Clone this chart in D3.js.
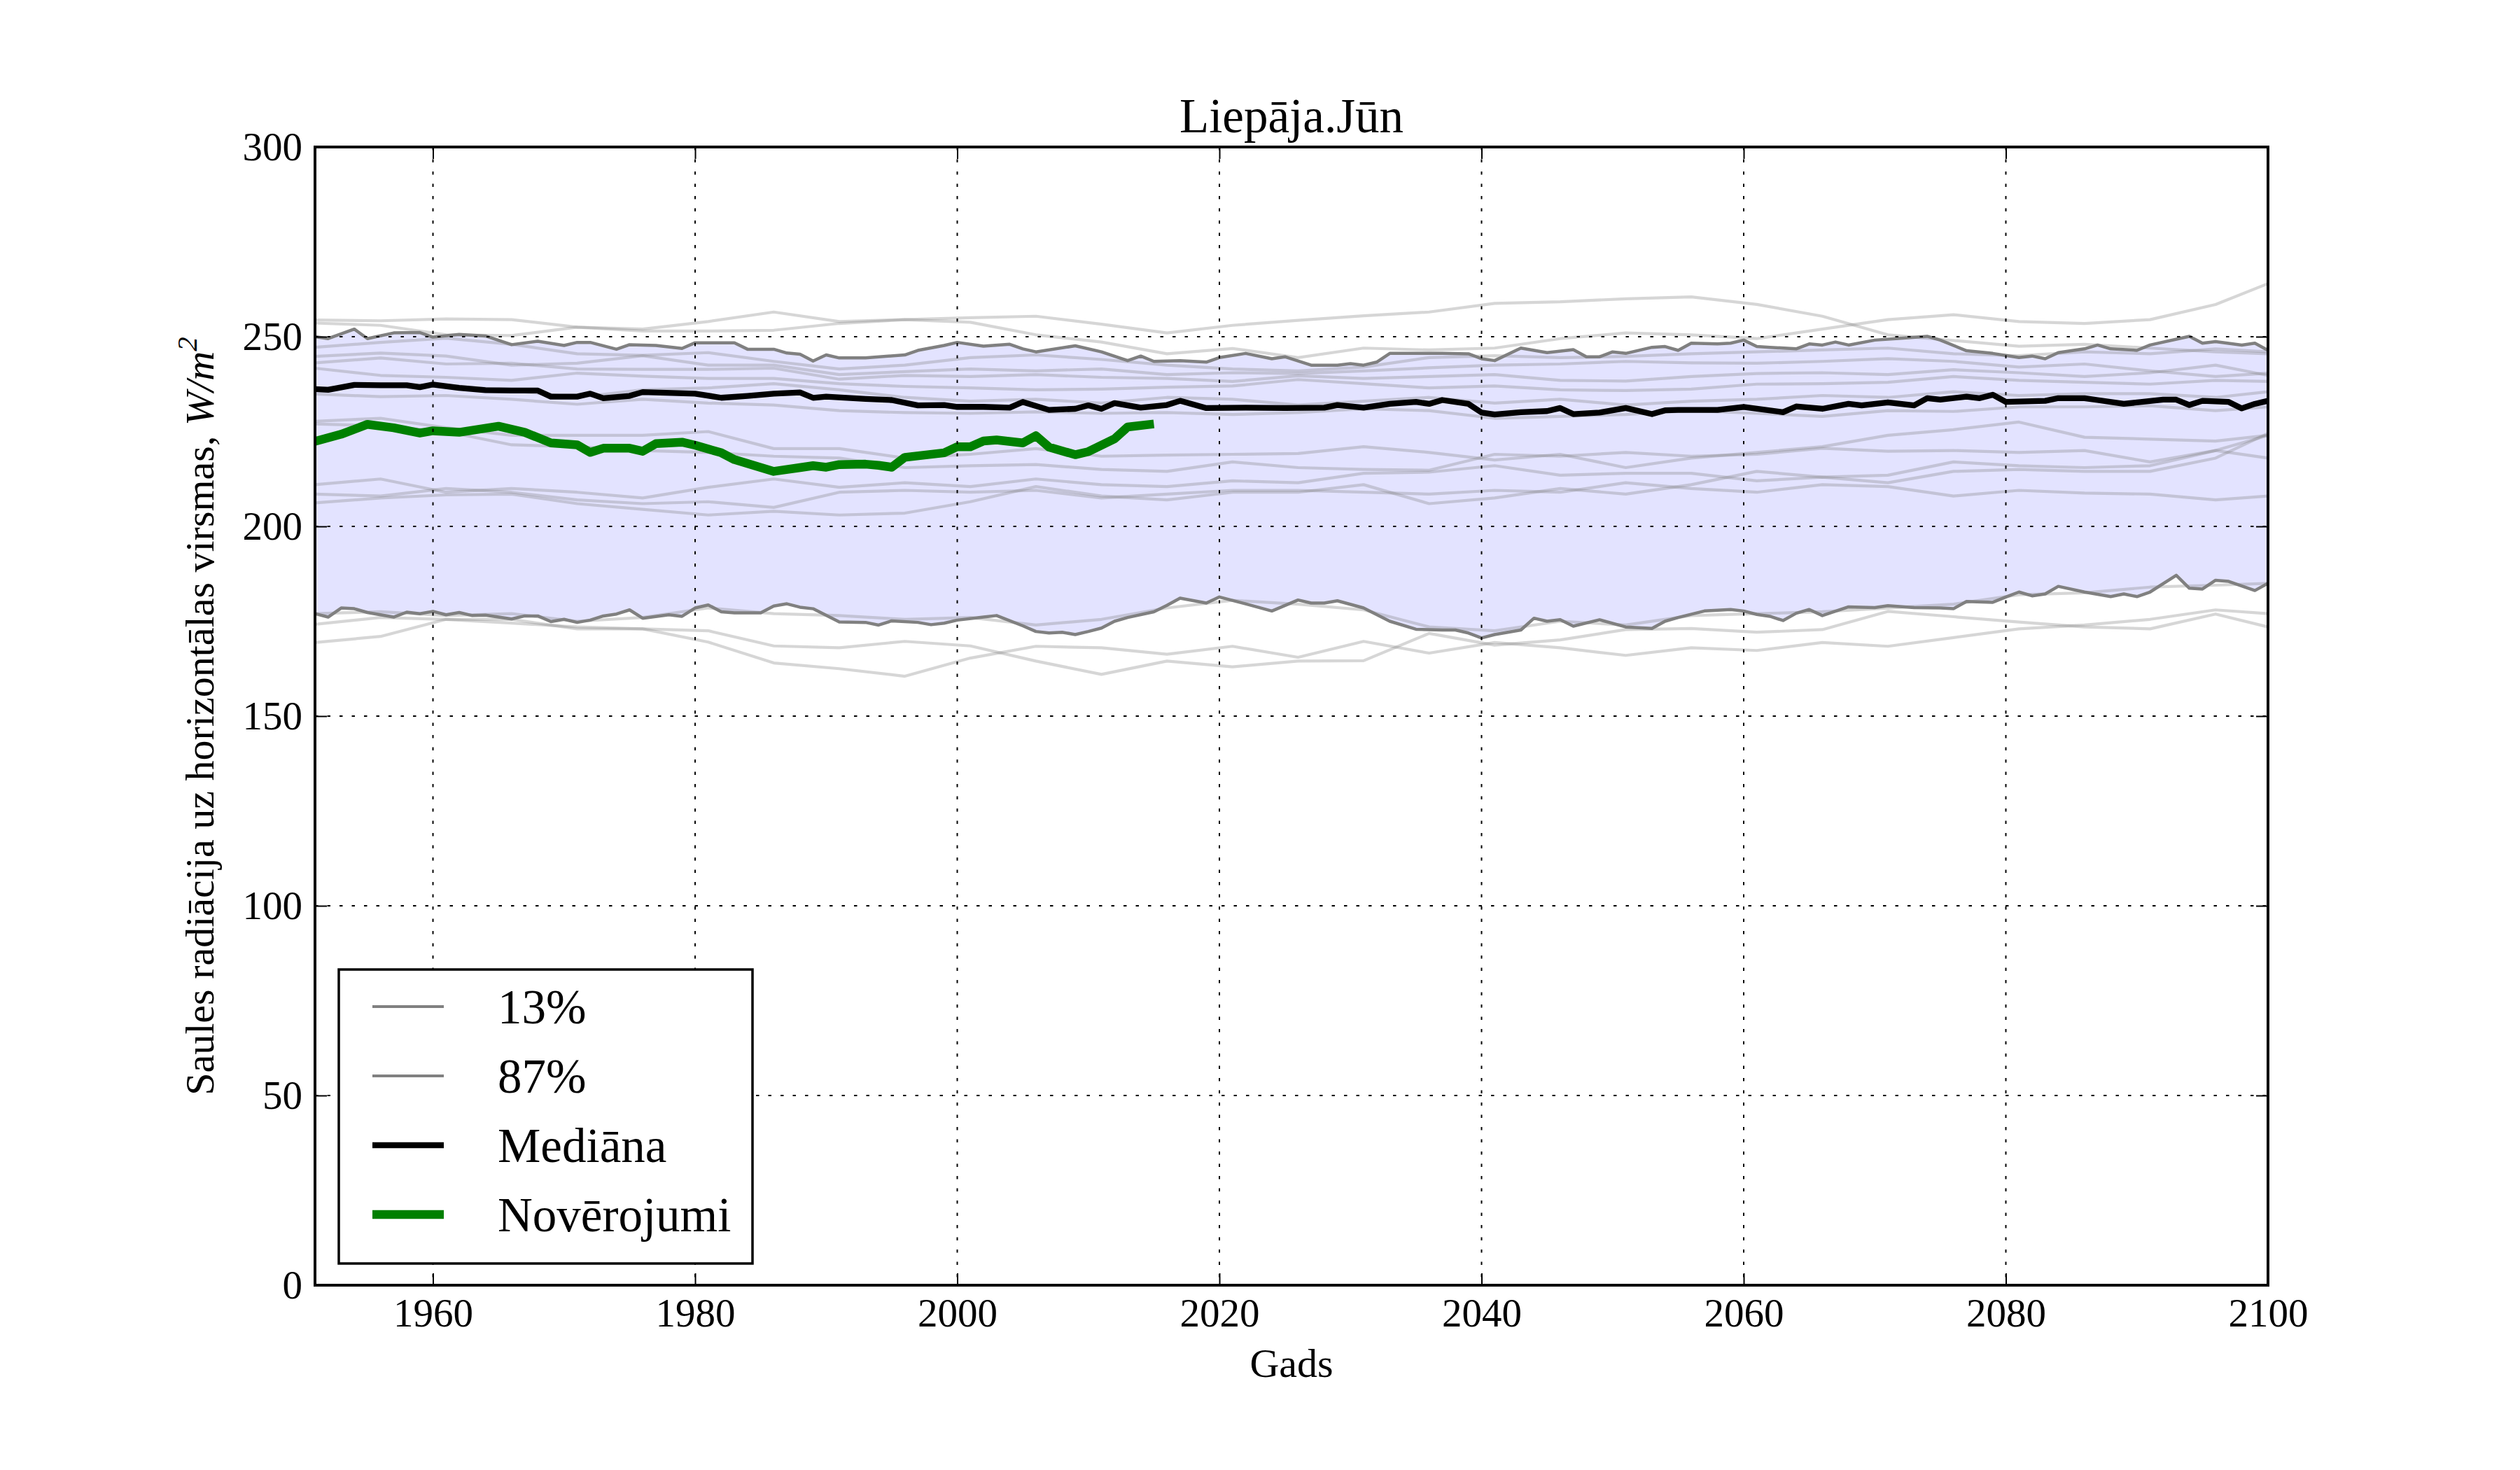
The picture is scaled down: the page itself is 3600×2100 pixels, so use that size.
<!DOCTYPE html>
<html>
<head>
<meta charset="utf-8">
<script src="https://cdn.jsdelivr.net/npm/d3@7"></script>
<style>
  body { margin: 0; background: white; }
  text { font-family: "Liberation Serif", "DejaVu Serif", serif; }
</style>
</head>
<body>
<script>
// --- DATA ---
var modelYears = [1951,1956,1961,1966,1971,1976,1981,1986,1991,1996,2001,2006,2011,2016,2021,2026,2031,2036,2041,2046,2051,2056,2061,2066,2071,2076,2081,2086,2091,2096,2100];

// single model runs (light grey)
var models = [
  [254.4,254.2,254.7,254.5,252.5,252.0,254.0,256.5, 254.0,254.5,255.0,255.4,253.3,251.0,253.0, 254.3,255.5,256.5,258.8,259.2,260.0,260.5,258.5, 255.4,250.5,249.0,247.5,248.0,247.0,246.0,245.5],
  [253.6,253.0,250.5,250.3,252.5,251.5,251.5,251.7, 253.5,254.5,253.8,250.5,248.6,245.5,246.9, 244.5,247.0,246.5,247.0,249.5,251.0,250.5,249.5, 252.0,254.5,255.8,254.0,253.5,254.5,258.5,264.0],
  [247.2,248.5,249.6,248.0,245.5,245.1,245.8,243.5, 241.5,242.5,244.5,245.2,244.0,242.5,241.5, 241.0,242.0,244.5,245.0,244.5,244.8,245.5,246.0, 246.5,247.0,245.5,245.0,246.0,245.5,246.8,246.0],
  [244.8,245.7,244.9,242.5,243.0,245.0,242.5,242.5, 240.0,240.8,241.5,241.0,241.5,240.0,240.5, 240.3,241.0,241.8,242.5,242.8,243.5,243.1,243.0, 243.5,244.2,243.5,242.0,242.8,241.0,239.5,240.4],
  [243.1,244.4,242.8,243.0,241.5,241.4,241.4,241.7, 238.8,239.8,239.5,240.0,239.3,239.0,238.2, 239.7,239.0,239.5,240.0,238.5,238.3,239.5,240.3, 240.5,240.0,241.3,240.5,239.5,240.5,242.5,239.8],
  [241.7,239.8,239.3,238.5,240.4,239.6,239.0,239.0, 237.6,236.9,236.5,236.0,236.2,236.7,237.0, 238.7,237.6,236.5,237.0,236.0,235.8,236.2,237.5, 237.6,238.0,239.5,238.5,238.0,237.5,238.5,238.2],
  [236.3,237.5,237.2,235.8,234.0,236.0,236.5,237.6, 236.0,234.0,233.0,233.5,232.5,234.0,233.5, 232.0,233.0,234.0,232.5,233.5,232.0,233.0,233.5, 234.5,234.0,235.5,234.5,235.0,235.0,234.0,235.5],
  [234.9,234.2,234.5,233.5,232.2,233.5,232.5,232.0, 230.5,230.0,229.8,230.2,229.8,230.0,229.5, 230.0,231.0,230.5,228.5,229.0,229.5,230.5,229.8, 229.0,230.5,230.3,231.5,231.5,231.8,230.5,231.5],
  [227.7,228.5,226.0,224.0,224.0,224.0,225.0,220.5, 220.5,218.0,219.0,220.5,218.5,218.8,219.0, 219.2,221.0,219.5,217.5,219.0,215.5,218.0,219.5, 221.0,224.0,225.5,227.5,223.5,223.0,222.5,224.0],
  [227.0,226.5,225.0,221.5,221.0,220.0,219.5,218.5, 218.0,215.5,216.0,216.3,215.0,214.5,217.0, 215.5,215.0,214.8,219.0,218.5,219.5,218.5,219.0, 220.6,219.8,220.0,219.5,220.0,217.0,220.0,218.0],
  [211.0,212.5,209.0,210.0,209.0,207.5,210.3,212.5, 210.3,211.5,210.5,212.5,211.0,210.5,212.0, 211.5,214.0,214.3,216.0,213.5,214.0,214.0,212.0, 213.0,211.5,214.5,215.0,214.5,214.5,218.0,224.5],
  [206.2,207.5,208.3,208.5,206.0,204.5,203.0,204.0, 203.0,203.5,206.5,210.5,208.0,207.0,209.0, 209.0,211.0,206.0,207.5,210.0,208.5,211.0,214.5, 213.0,213.5,217.0,216.0,215.5,216.0,220.0,224.0],
  [208.5,208.0,210.0,209.0,207.0,206.0,206.5,205.0, 209.0,209.5,209.0,209.5,207.5,208.5,209.5, 209.5,209.0,208.5,209.5,209.0,211.5,210.0,209.0, 211.0,210.5,208.0,209.5,208.8,208.5,207.0,208.0],
  [177.0,177.5,176.5,177.0,175.0,176.0,178.5,177.0, 176.5,175.5,176.0,174.0,175.5,178.5,180.5, 179.5,178.0,173.5,172.5,175.0,174.0,176.5,177.0, 177.5,178.5,179.5,182.0,182.5,184.0,184.5,185.0],
  [174.2,176.0,175.5,175.5,173.0,173.0,172.5,168.5, 168.0,169.7,168.5,164.5,161.0,164.5,163.0, 164.5,164.6,171.8,168.7,170.1,172.8,173.1,172.1, 172.8,177.6,176.2,174.8,173.5,173.0,176.9,173.5],
  [169.4,171.0,175.5,174.5,173.5,173.0,169.5,164.0, 162.5,160.5,165.3,168.4,168.0,166.3,168.4, 165.5,169.7,166.6,169.4,168.0,166.0,168.0,167.3, 169.4,168.4,170.7,173.0,174.0,175.5,178.0,177.0]
];

// 87% percentile
var p87Years = [1951,1952,1954,1955,1957,1959,1960,1962,1964,1966,1968,1970,1971,1972,1974,1975,1977,1979,1980,1983,1984,1986,1987,1988,1989,1990,1991,1993,1996,1997,1999,2000,2002,2004,2005,2006,2009,2011,2013,2014,2015,2017,2019,2020,2022,2024,2025,2027,2029,2030,2031,2032,2033,2037,2039,2040,2041,2043,2045,2047,2048,2049,2050,2051,2053,2054,2055,2056,2058,2059,2060,2061,2062,2064,2065,2066,2067,2068,2070,2072,2074,2075,2077,2079,2081,2082,2083,2084,2086,2087,2088,2090,2091,2094,2095,2096,2098,2099,2100];
var p87Values = [250.0,249.5,252.0,249.5,251.0,251.1,249.9,250.6,250.2,247.9,248.8,247.7,248.5,248.5,246.7,247.9,247.7,246.9,248.4,248.4,246.7,246.7,245.7,245.4,243.6,245.2,244.4,244.4,245.2,246.4,247.7,248.5,247.5,248.0,246.8,246.0,247.6,246.0,243.7,244.9,243.5,243.7,243.3,244.5,245.6,244.2,244.7,242.5,242.5,242.9,242.5,243.3,245.6,245.6,245.5,244.2,243.7,247.0,245.8,246.6,244.7,244.7,246.0,245.6,247.2,247.4,246.4,248.3,248.1,248.3,249.1,247.4,247.2,246.8,248.1,247.8,248.6,247.8,249.1,249.6,250.1,249.1,246.3,245.6,244.5,244.9,244.2,245.8,246.8,247.8,246.8,246.4,247.8,250.1,248.3,248.7,247.8,248.3,246.4];

// 13% percentile
var p13Years = [1951,1952,1953,1954,1955,1957,1958,1959,1960,1961,1962,1963,1964,1966,1967,1968,1969,1970,1971,1972,1973,1974,1975,1976,1978,1979,1980,1981,1982,1983,1985,1986,1987,1988,1989,1991,1993,1994,1995,1997,1998,1999,2000,2002,2003,2005,2006,2007,2008,2009,2010,2011,2012,2013,2015,2016,2017,2019,2020,2022,2024,2026,2027,2028,2029,2031,2033,2035,2037,2038,2039,2040,2041,2043,2044,2045,2046,2047,2049,2051,2053,2054,2055,2057,2059,2060,2061,2062,2063,2064,2065,2066,2068,2070,2071,2073,2075,2076,2077,2079,2080,2081,2082,2083,2084,2086,2088,2089,2090,2091,2093,2094,2095,2096,2097,2099,2100];
var p13Values = [177.0,176.1,178.5,178.3,177.3,176.1,177.4,177.0,177.6,176.7,177.3,176.5,176.6,175.6,176.4,176.4,174.9,175.5,174.7,175.3,176.4,176.9,178.0,175.8,176.7,176.3,178.5,179.3,177.5,177.2,177.2,179.0,179.6,178.7,178.3,174.8,174.7,174.0,175.1,174.7,174.1,174.5,175.3,176.1,176.5,173.8,172.3,171.9,172.1,171.5,172.3,173.2,175.0,176.0,177.5,179.2,181.1,179.8,181.4,179.6,177.7,180.6,179.8,179.8,180.4,178.5,175.0,172.9,172.7,172.7,171.9,170.6,171.5,172.7,175.8,175.0,175.4,173.7,175.4,173.5,173.1,175.0,176.0,177.7,178.1,177.7,176.8,176.3,175.2,177.1,178.1,176.5,178.8,178.6,179.1,178.6,178.5,178.3,180.2,180.0,181.4,182.7,181.7,182.2,184.2,182.7,181.5,182.2,181.5,182.7,187.1,183.7,183.5,185.8,185.5,183.1,185.0];

// median
var medYears = [1951,1952,1954,1956,1958,1959,1960,1962,1964,1966,1968,1969,1971,1972,1973,1975,1976,1980,1982,1984,1986,1988,1989,1990,1993,1995,1997,1999,2000,2002,2004,2005,2007,2009,2010,2011,2012,2014,2016,2017,2019,2022,2025,2028,2029,2031,2033,2035,2036,2037,2039,2040,2041,2043,2045,2046,2047,2049,2051,2053,2054,2055,2058,2060,2063,2064,2066,2068,2069,2071,2073,2074,2075,2077,2078,2079,2080,2083,2084,2086,2087,2089,2092,2093,2094,2095,2097,2098,2099,2100];
var medValues = [236.2,236.0,237.3,237.2,237.2,236.7,237.4,236.5,235.9,235.8,235.8,234.2,234.2,235.0,233.8,234.4,235.4,235.0,233.9,234.4,235.0,235.3,233.9,234.2,233.6,233.3,231.9,232.0,231.5,231.5,231.3,232.8,230.7,231.0,231.9,231.0,232.5,231.3,232.0,233.1,231.2,231.3,231.2,231.3,232.0,231.3,232.3,232.8,232.3,233.3,232.3,230.0,229.5,230.1,230.4,231.2,229.6,230.0,231.2,229.6,230.6,230.7,230.7,231.5,230.1,231.6,231.0,232.3,231.9,232.7,231.9,233.8,233.4,234.2,233.8,234.7,232.8,233.1,233.8,233.8,233.3,232.3,233.4,233.4,232.0,233.1,232.8,231.1,232.3,233.1];

// observations (Novērojumi)
var obsYears = [1951,1953,1955,1957,1959,1960,1962,1965,1967,1969,1971,1972,1973,1975,1976,1977,1979,1980,1982,1983,1986,1988,1989,1990,1991,1993,1994,1995,1996,1999,2000,2001,2002,2003,2005,2006,2007,2009,2010,2012,2013,2015];
var obsValues = [222.4,224.3,226.9,226.0,224.6,225.2,224.8,226.4,224.8,222.0,221.5,219.5,220.6,220.6,219.8,221.8,222.2,221.4,219.4,217.6,214.5,215.5,216.0,215.6,216.3,216.4,216.1,215.6,218.2,219.4,221.0,221.0,222.5,222.8,222.0,223.9,220.9,218.9,219.7,223.1,226.2,227.0];

var xTicks = [1960,1980,2000,2020,2040,2060,2080,2100];
var yTicks = [0,50,100,150,200,250,300];
var legendLabels = ["13%","87%","Mediāna","Novērojumi"];

// --- SETUP ---
var W = 3600, H = 2100;
var L = 450, R = 3240, T = 210, B = 1836;

var x = d3.scaleLinear().domain([1951, 2100]).range([L, R]);
var y = d3.scaleLinear().domain([0, 300]).range([B, T]);

var svg = d3.select("body").append("svg").attr("width", W).attr("height", H).style("background-color", "white");

var line = d3.line().x(function(d){ return x(d[0]); }).y(function(d){ return y(d[1]); });
function pairs(ys, vs){ return ys.map(function(yr, i){ return [yr, vs[i]]; }); }

// band between 13% and 87%
var bandPts = pairs(p87Years, p87Values).concat(pairs(p13Years, p13Values).reverse());
svg.append("path").attr("d", line(bandPts) + "Z").attr("fill", "rgb(0,0,255)").attr("fill-opacity", 0.11).attr("stroke", "none");

// model runs
models.forEach(function(m){
  svg.append("path").attr("d", line(pairs(modelYears, m)))
    .attr("fill", "none").attr("stroke", "#808080").attr("stroke-opacity", 0.32)
    .attr("stroke-width", 4.2).attr("stroke-linejoin", "round");
});

// percentiles
svg.append("path").attr("d", line(pairs(p13Years, p13Values))).attr("fill","none").attr("stroke","#808080").attr("stroke-width",4.5).attr("stroke-linejoin","round");
svg.append("path").attr("d", line(pairs(p87Years, p87Values))).attr("fill","none").attr("stroke","#808080").attr("stroke-width",4.5).attr("stroke-linejoin","round");

// median
svg.append("path").attr("d", line(pairs(medYears, medValues))).attr("fill","none").attr("stroke","black").attr("stroke-width",8.3).attr("stroke-linejoin","round");

// observations
svg.append("path").attr("d", line(pairs(obsYears, obsValues))).attr("fill","none").attr("stroke","#008000").attr("stroke-width",12.5).attr("stroke-linejoin","round");

// grid (dotted, on top like classic matplotlib)
var grid = svg.append("g");
grid.selectAll(".gx").data(xTicks).enter().append("line")
  .attr("x1", function(d){ return x(d); }).attr("x2", function(d){ return x(d); })
  .attr("y1", T).attr("y2", B);
grid.selectAll(".gy").data(yTicks).enter().append("line")
  .attr("y1", function(d){ return y(d); }).attr("y2", function(d){ return y(d); })
  .attr("x1", L).attr("x2", R);
grid.selectAll("line").attr("stroke", "black").attr("stroke-width", 2).attr("stroke-dasharray", "4.5,13");

// axes: ticks inward on all sides
function styleAxis(g){
  g.select(".domain").remove();
  g.selectAll(".tick line").attr("stroke", "black").attr("stroke-width", 2);
  g.selectAll("text").attr("font-family", "Liberation Serif").attr("font-size", 57).attr("fill", "black");
}
svg.append("g").attr("transform", "translate(0," + B + ")")
  .call(d3.axisBottom(x).tickValues(xTicks).tickFormat(d3.format("d")).tickSizeInner(-17).tickSizeOuter(0).tickPadding(18.5))
  .call(styleAxis);
svg.append("g").attr("transform", "translate(0," + T + ")")
  .call(d3.axisTop(x).tickValues(xTicks).tickFormat("").tickSizeInner(-17).tickSizeOuter(0))
  .call(styleAxis);
svg.append("g").attr("transform", "translate(" + L + ",0)")
  .call(d3.axisLeft(y).tickValues(yTicks).tickSizeInner(-17).tickSizeOuter(0).tickPadding(18))
  .call(styleAxis);
svg.append("g").attr("transform", "translate(" + R + ",0)")
  .call(d3.axisRight(y).tickValues(yTicks).tickFormat("").tickSizeInner(-17).tickSizeOuter(0))
  .call(styleAxis);

// frame
svg.append("rect").attr("x", L).attr("y", T).attr("width", R - L).attr("height", B - T)
  .attr("fill", "none").attr("stroke", "black").attr("stroke-width", 4);

// title and labels
svg.append("text").attr("x", (L + R) / 2).attr("y", 189).attr("text-anchor", "middle")
  .attr("font-size", 69).text("Liepāja.Jūn");
svg.append("text").attr("x", (L + R) / 2).attr("y", 1967).attr("text-anchor", "middle")
  .attr("font-size", 58).text("Gads");
var yl = svg.append("text").attr("transform", "translate(305," + ((T + B) / 2) + ") rotate(-90)")
  .attr("text-anchor", "middle").attr("font-size", 58);
yl.append("tspan").text("Saules radiācija uz horizontālas virsmas, ");
yl.append("tspan").attr("font-style", "italic").text("W/m");
yl.append("tspan").attr("font-style", "italic").attr("font-size", 41).attr("dy", -24).text("2");

// legend
var lg = svg.append("g");
lg.append("rect").attr("x", 484).attr("y", 1385).attr("width", 591).attr("height", 420)
  .attr("fill", "white").attr("stroke", "black").attr("stroke-width", 3.5);
var legendColors = ["#808080", "#808080", "black", "#008000"];
var legendWidths = [4.2, 4.2, 8.3, 12.5];
var legendY = d3.scaleLinear().domain([0, 3]).range([1438, 1735]);
legendLabels.forEach(function(lab, i){
  lg.append("line").attr("x1", 532).attr("x2", 634).attr("y1", legendY(i)).attr("y2", legendY(i))
    .attr("stroke", legendColors[i]).attr("stroke-width", legendWidths[i]);
  lg.append("text").attr("x", 711).attr("y", legendY(i) + 24).attr("font-size", 69).text(lab);
});
</script>
</body>
</html>
